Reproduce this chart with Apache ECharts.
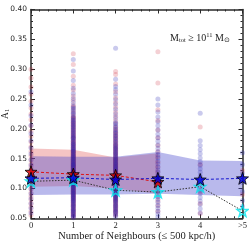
<!DOCTYPE html>
<html>
<head>
<meta charset="utf-8">
<script src="https://cdn.jsdelivr.net/npm/echarts@6/dist/echarts.min.js"></script>
<style>html,body{margin:0;padding:0;background:#fff}#c{width:249px;height:241px}</style>
</head>
<body>
<div id="c"></div>
<script>
// ---- data ----
const xTickLabels = ['0', '1', '2', '3', '4', '>5'];
const xPos = [0, 1, 2, 3, 4, 5];

// individual galaxies (A1 values) per neighbour bin
const red0 = [0.300,0.285,0.270,0.258,0.246,0.235,0.225,0.215,0.205,0.196,0.187,0.178,0.170,0.162,0.155,0.148,0.141,0.135,0.129,0.123,0.117,0.111,0.105,0.099,0.093,0.087,0.081,0.075,0.069,0.062,0.055];
const blue0 = [0.262,0.240,0.222,0.206,0.192,0.180,0.168,0.158,0.148,0.139,0.131,0.123,0.115,0.107,0.099,0.091,0.083,0.075,0.067,0.059];
const red1 = [0.326,0.308,0.288,0.273,0.265,0.255,0.248,0.240,0.236,0.231,0.227,0.222,0.218,0.213,0.209,0.205,0.201,0.197,0.193,0.189,0.186,0.182,0.178,0.175,0.171,0.168,0.164,0.161,0.158,0.155,0.152,0.149,0.146,0.143,0.140,0.137,0.135,0.132,0.129,0.127,0.124,0.122,0.119,0.117,0.114,0.112,0.109,0.107,0.104,0.101,0.098,0.095,0.092,0.089,0.086,0.083,0.080,0.077,0.073,0.070,0.066,0.063,0.059,0.056,0.052,
  0.054,0.058,0.061,0.065,0.068,0.072,0.075,0.079,0.082,0.085,0.088,0.091,0.094,0.097,0.100,0.103,0.106,0.108,0.111,0.113,0.116,0.118,0.121,0.123,0.126,0.128,0.131,0.134,0.136,0.139,0.142,0.145,0.148,0.151,0.154,0.157,0.160,0.163,0.166,0.170,0.173,0.177,0.180,0.184,0.188,0.192,0.196,0.200,0.204,0.208,0.212,0.216,0.220];
const blue1 = [0.316,0.297,0.281,0.268,0.259,0.251,0.244,0.238,0.233,0.229,0.224,0.220,0.215,0.211,0.207,0.203,0.199,0.195,0.191,0.187,0.184,0.180,0.176,0.173,0.169,0.166,0.163,0.160,0.156,0.153,0.150,0.147,0.144,0.141,0.139,0.136,0.133,0.130,0.128,0.125,0.123,0.120,0.118,0.115,0.113,0.110,0.108,0.105,0.102,0.099,0.096,0.093,0.090,0.087,0.084,0.081,0.078,0.075,0.071,0.068,0.064,0.061,0.057,0.054,0.051,
  0.053,0.056,0.060,0.063,0.066,0.070,0.073,0.077,0.080,0.083,0.086,0.089,0.092,0.095,0.098,0.101,0.104,0.107,0.109,0.112,0.114,0.117,0.119,0.122,0.124,0.127,0.129,0.132,0.135,0.138,0.140,0.143,0.146,0.149,0.152,0.155,0.158,0.162,0.165,0.168,0.172,0.175,0.179,0.183,0.186,0.190,0.194,0.198,0.202,0.206,0.210,0.214,0.218,0.226,0.235];
const red2 = [0.296,0.291,0.275,0.262,0.252,0.244,0.236,0.228,0.221,0.214,0.208,0.202,0.196,0.191,0.186,0.181,0.176,0.172,0.168,0.164,0.160,0.156,0.152,0.148,0.145,0.141,0.138,0.135,0.132,0.129,0.126,0.123,0.120,0.117,0.114,0.111,0.108,0.105,0.102,0.099,0.096,0.093,0.090,0.087,0.083,0.080,0.076,0.072,0.068,0.064,0.060,0.055,
  0.057,0.062,0.066,0.070,0.074,0.078,0.082,0.085,0.088,0.091,0.094,0.097,0.100,0.103,0.106,0.109,0.112,0.115,0.118,0.121,0.124,0.127,0.130,0.133,0.137,0.140,0.143,0.147,0.150,0.154,0.158,0.162,0.166,0.170,0.174,0.179,0.184,0.189,0.194,0.200];
const blue2 = [0.335,0.283,0.271,0.266,0.258,0.249,0.241,0.233,0.225,0.218,0.211,0.205,0.199,0.194,0.189,0.184,0.179,0.174,0.170,0.166,0.162,0.158,0.154,0.150,0.147,0.143,0.140,0.137,0.134,0.131,0.127,0.124,0.121,0.118,0.115,0.112,0.109,0.106,0.103,0.100,0.097,0.094,0.091,0.088,0.085,0.081,0.078,0.074,0.070,0.066,0.062,0.058,0.053,
  0.055,0.060,0.064,0.068,0.072,0.076,0.080,0.083,0.086,0.089,0.092,0.095,0.098,0.101,0.104,0.107,0.110,0.113,0.116,0.119,0.122,0.125,0.129,0.132,0.135,0.138,0.142,0.145,0.149,0.152,0.156,0.160,0.164,0.168,0.172,0.177,0.182,0.187,0.192,0.197,0.203,0.209];
const red3 = [0.329,0.277,0.232,0.214,0.198,0.185,0.172,0.162,0.153,0.144,0.136,0.128,0.121,0.114,0.107,0.100,0.093,0.086,0.079,0.071,0.062];
const blue3 = [0.250,0.240,0.228,0.220,0.212,0.205,0.198,0.191,0.185,0.179,0.173,0.167,0.161,0.156,0.151,0.146,0.141,0.136,0.131,0.127,0.122,0.118,0.113,0.109,0.104,0.100,0.095,0.091,0.086,0.082,0.077,0.072,0.067,0.062,0.057,0.052];
const red4 = [0.203,0.140,0.112,0.094,0.075,0.058];
const blue4 = [0.226,0.180,0.172,0.165,0.158,0.151,0.145,0.139,0.133,0.127,0.121,0.115,0.109,0.103,0.097,0.091,0.085,0.079,0.073,0.066,0.059];
const red5 = [0.130,0.090];
const blue5 = [0.160,0.140,0.125,0.110,0.095,0.080,0.070];

// medians
const redMedX = [0, 1, 2, 3];
const redMed = [0.128, 0.124, 0.122, 0.111];
const blueMed = [0.117, 0.118, 0.115, 0.117, 0.115, 0.117];
const cyanMed = [0.112, 0.114, 0.097, 0.094, 0.103, 0.0625];

// percentile bands
const redUpper = [0.167, 0.165, 0.152, 0.159];
const redLower = [0.103, 0.104, 0.100, 0.091];
const blueUpper = [0.154, 0.153, 0.153, 0.161, 0.147, 0.146];
const blueLower = [0.089, 0.090, 0.090, 0.091, 0.089, 0.087];

// ---- build ----
const redCols = [red0, red1, red2, red3, red4, red5];
const blueCols = [blue0, blue1, blue2, blue3, blue4, blue5];
function pts(cols) {
  const out = [];
  cols.forEach((c, i) => c.forEach(v => out.push([xPos[i], v])));
  return out;
}
function starPath() {
  let d = '';
  for (let i = 0; i < 10; i++) {
    const r = i % 2 ? 0.4 : 1;
    const a = -Math.PI / 2 + i * Math.PI / 5;
    d += (i ? 'L' : 'M') + (r * Math.cos(a)).toFixed(4) + ' ' + (r * Math.sin(a)).toFixed(4);
  }
  return 'path://' + d + 'Z';
}
const STAR = starPath();
function band(xs, lo, hi, color) {
  return {
    type: 'custom', z: 1, clip: true, silent: true,
    data: [0],
    renderItem: function (params, api) {
      const p = [];
      for (let i = 0; i < xs.length; i++) p.push(api.coord([xs[i], hi[i]]));
      for (let i = xs.length - 1; i >= 0; i--) p.push(api.coord([xs[i], lo[i]]));
      return { type: 'polygon', shape: { points: p }, style: { fill: color } };
    }
  };
}
const axisColor = '#2a2a2a';
function xAx(pos, labels) {
  return {
    type: 'value', min: 0, max: 5, interval: 1, position: pos,
    axisLine: { show: true, onZero: false, lineStyle: { color: axisColor, width: 1.5 } },
    axisTick: { show: true, inside: true, length: 4, lineStyle: { color: axisColor, width: 1 } },
    minorTick: { show: true, splitNumber: 5, length: 2, lineStyle: { color: axisColor, width: 1 } },
    splitLine: { show: false },
    axisLabel: labels ? { show: true, formatter: v => xTickLabels[Math.round(v)], fontFamily: 'Liberation Serif', fontSize: 8.5, color: '#222', margin: 3 } : { show: false },
    name: labels ? 'Number of Neighbours (\u2264 500 kpc/h)' : '',
    nameLocation: 'middle', nameGap: 12, nameMoveOverlap: false,
    nameTextStyle: { fontFamily: 'Liberation Serif', fontSize: 10.5, color: '#222' }
  };
}
function yAx(pos, labels) {
  return {
    type: 'value', min: 0.05, max: 0.40, interval: 0.05, position: pos,
    axisLine: { show: true, onZero: false, lineStyle: { color: axisColor, width: 1.5 } },
    axisTick: { show: true, inside: true, length: 4, lineStyle: { color: axisColor, width: 1 } },
    minorTick: { show: true, splitNumber: 5, length: 2, lineStyle: { color: axisColor, width: 1 } },
    splitLine: { show: false },
    axisLabel: labels ? { show: true, formatter: v => v.toFixed(2), fontFamily: 'DejaVu Sans', fontSize: 7.5, color: '#222', margin: 4 } : { show: false },
    name: labels ? '{a|A}{s|1}' : '',
    nameLocation: 'middle', nameGap: 20, nameRotate: 90, nameMoveOverlap: false,
    nameTextStyle: { rich: { a: { fontFamily: 'Liberation Serif', fontSize: 9.5, color: '#222' }, s: { fontFamily: 'Liberation Serif', fontSize: 6.5, color: '#222', verticalAlign: 'bottom', padding: [4, 0, 0, 0] } } }
  };
}
const chart = echarts.init(document.getElementById('c'), null, { renderer: 'canvas' });
chart.setOption({
  animation: false,
  backgroundColor: '#fff',
  grid: { left: 31, right: 6.5, top: 9.5, bottom: 22.7, containLabel: false, outerBoundsMode: 'none' },
  title: {
    text: '{m|M}{s|tot}{m| \u2265 10}{p|11}{m| M}{s|\u2299}',
    right: 14, top: 27,
    textStyle: { fontWeight: 'normal', rich: {
      m: { fontFamily: 'Liberation Serif', fontWeight: 'normal', fontSize: 10, color: '#222' },
      s: { fontFamily: 'Liberation Serif', fontWeight: 'normal', fontSize: 6.5, color: '#222', padding: [5, 0, 0, 0] },
      p: { fontFamily: 'Liberation Serif', fontWeight: 'normal', fontSize: 6.5, color: '#222', padding: [0, 0, 5, 0] }
    } }
  },
  xAxis: [xAx('bottom', true), xAx('top', false)],
  yAxis: [yAx('left', true), yAx('right', false)],
  series: [
    band(redMedX, redLower, redUpper, 'rgba(225,70,70,0.32)'),
    band(xPos, blueLower, blueUpper, 'rgba(70,70,205,0.38)'),
    { type: 'scatter', z: 2, clip: true, symbolSize: 5, data: pts(redCols), itemStyle: { color: 'rgba(200,30,50,0.26)' }, silent: true },
    { type: 'scatter', z: 2, clip: true, symbolSize: 5, data: pts(blueCols), itemStyle: { color: 'rgba(35,35,180,0.3)' }, silent: true },
    { type: 'line', z: 3, clip: true, showSymbol: false, data: redMedX.map((x, i) => [x, redMed[i]]), lineStyle: { color: '#e01010', width: 1, type: [3, 2] } },
    { type: 'line', z: 3, clip: true, showSymbol: false, data: xPos.map((x, i) => [x, blueMed[i]]), lineStyle: { color: '#1515d0', width: 1, type: [3, 2] } },
    { type: 'line', z: 3, clip: true, showSymbol: false, data: xPos.map((x, i) => [x, cyanMed[i]]), lineStyle: { color: '#333', width: 1, type: [1.5, 1.5] } },
    { type: 'scatter', z: 4, clip: true, symbol: STAR, symbolSize: 12, data: redMedX.map((x, i) => [x, redMed[i]]), itemStyle: { color: '#e00000', borderColor: '#000', borderWidth: 1 } },
    { type: 'scatter', z: 4, clip: true, symbol: STAR, symbolSize: 11, data: xPos.map((x, i) => [x, cyanMed[i]]), itemStyle: { color: 'rgba(0,0,0,0)', borderColor: '#00e5ee', borderWidth: 1.5 } },
    { type: 'scatter', z: 4, clip: true, symbol: STAR, symbolSize: 12, data: xPos.map((x, i) => [x, blueMed[i]]), itemStyle: { color: '#0000e0', borderColor: '#000', borderWidth: 1 } }
  ]
});
</script>
</body>
</html>
